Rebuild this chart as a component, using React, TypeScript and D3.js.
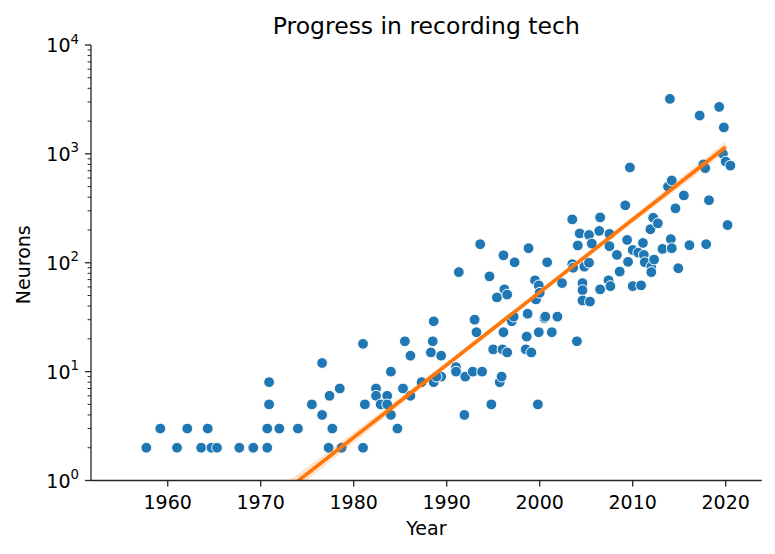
import React from "react";
import * as d3 from "d3";

const years = [
  1957.7, 1959.2, 1961.0, 1962.1, 1963.6, 1964.3, 1964.7, 1965.3, 1967.7, 1969.2,
  1970.7, 1970.7, 1970.9, 1970.9, 1972.0, 1974.0, 1975.5, 1976.6, 1976.6, 1977.3,
  1977.4, 1977.7, 1978.5, 1978.7, 1981.0, 1981.2, 1981.0, 1982.4, 1982.4, 1982.9,
  1983.6, 1983.6, 1984.0, 1984.0, 1984.7, 1985.3, 1985.5, 1986.1, 1986.1, 1987.3,
  1988.6, 1988.5, 1988.3, 1989.4, 1988.6, 1989.4, 1988.9, 1991.0, 1991.0, 1991.3,
  1992.0, 1991.9, 1992.8, 1993.8, 1993.0, 1993.2, 1993.6, 1994.6, 1994.8, 1995.0,
  1995.4, 1995.7, 1995.9, 1996.0, 1996.5, 1996.1, 1996.1, 1996.2, 1996.5, 1997.0,
  1997.2, 1997.3, 1998.5, 1998.6, 1998.7, 1998.8, 1999.1, 1999.5, 1999.6, 1999.8,
  1999.9, 1999.9, 2000.0, 2000.5, 2000.6, 2000.8, 2001.3, 2001.9, 2002.4, 2003.5,
  2003.5, 2003.6, 2004.0, 2004.1, 2004.3, 2004.6, 2004.6, 2004.6, 2004.8, 2005.3,
  2005.3, 2005.4, 2005.6, 2006.4, 2006.5, 2006.5, 2007.4, 2007.5, 2007.5, 2007.6,
  2008.3, 2008.6, 2009.2, 2009.4, 2009.5, 2009.7, 2010.0, 2010.0, 2010.6, 2010.9,
  2011.1, 2011.2, 2011.3, 2011.9, 2012.0, 2012.0, 2012.2, 2012.3, 2012.7, 2013.2,
  2013.8, 2014.0, 2014.1, 2014.2, 2014.2, 2014.6, 2014.9, 2015.5, 2016.1, 2017.2,
  2017.6, 2017.8, 2017.9, 2018.2, 2019.3, 2019.7, 2019.8, 2020.0, 2020.2, 2020.5,
];

const neurons = [
  2, 3, 2, 3, 2, 3, 2, 2, 2, 2,
  2, 3, 5, 8, 3, 3, 5, 4, 12, 2,
  6, 3, 7, 2, 18, 5, 2, 7, 6, 5,
  6, 5, 10, 4, 3, 7, 19, 14, 6, 8,
  29, 19, 15, 14, 8, 9, 9, 11, 10, 82,
  9, 4, 10, 10, 30, 23, 148, 75, 5, 16,
  48, 8, 9, 16, 15, 23, 117, 57, 51, 29,
  32, 101, 16, 21, 34, 136, 15, 69, 46, 5,
  62, 23, 53, 31, 32, 101, 23, 32, 65, 250,
  97, 90, 19, 144, 186, 65, 56, 45, 92, 180,
  100, 44, 150, 196, 261, 57, 69, 184, 142, 61,
  118, 83, 337, 162, 102, 750, 131, 61, 124, 62,
  152, 118, 101, 203, 92, 82, 259, 107, 230, 134,
  500, 3200, 165, 570, 136, 316, 89, 415, 145, 2250,
  800, 740, 148, 375, 2700, 1000, 1750, 850, 222, 780,
];

// Regression fit: endpoints of the fitted line
const fitYears = [1957.7, 2020.0];
const fitValues = [0.081, 1157];
// Confidence band half-width (log10 units) at a few years
const bandYears = [1957.7, 1975, 1990, 2005, 2020.0];
const bandHalfLog = [0.14, 0.06, 0.025, 0.025, 0.05];

const xTicks = [1960, 1970, 1980, 1990, 2000, 2010, 2020];
const yTickExps = [0, 1, 2, 3, 4];

const title = "Progress in recording tech";
const xLabel = "Year";
const yLabel = "Neurons";

const W = 775;
const H = 554;
const left = 91;
const right = 761.7;
const top = 45;
const bottom = 480.5;
const FONT = "DejaVu Sans, sans-serif";
const AXIS = "#262626";
const FS = 19;

export default function App() {
  const x = d3.scaleLinear().domain([1951.75, 2023.87]).range([left, right]);
  const y = d3.scaleLog().domain([1, 1e4]).range([bottom, top]);

  const fitLog = (yr: number) => {
    const l0 = Math.log10(fitValues[0]);
    const l1 = Math.log10(fitValues[1]);
    return l0 + ((yr - fitYears[0]) / (fitYears[1] - fitYears[0])) * (l1 - l0);
  };
  const halfAt = d3.scaleLinear().domain(bandYears).range(bandHalfLog);
  const bandPts = d3.range(0, 41).map((i) => fitYears[0] + (i / 40) * (fitYears[1] - fitYears[0]));
  const band = d3
    .area<number>()
    .x((d) => x(d))
    .y0((d) => y(Math.pow(10, fitLog(d) - halfAt(d))))
    .y1((d) => y(Math.pow(10, fitLog(d) + halfAt(d))));
  const line = d3
    .line<number>()
    .x((d) => x(d))
    .y((d, i) => y(fitValues[i]));

  const minorTicks: number[] = [];
  for (let e = 0; e < 4; e++) {
    for (let m = 2; m <= 9; m++) minorTicks.push(m * Math.pow(10, e));
  }

  const points = years.map((yr, i) => ({ yr, v: neurons[i] }));

  return (
    <div style={{ position: "fixed", left: 0, top: 0, width: W, height: H, background: "#fff" }}>
      <svg width={W} height={H} style={{ display: "block", fontFamily: FONT }}>
        <defs>
          <clipPath id="plotclip">
            <rect x={left} y={top} width={right - left} height={bottom - top} />
          </clipPath>
        </defs>
        <rect x={0} y={0} width={W} height={H} fill="#fff" />
        <g clipPath="url(#plotclip)">
          {points.map((p, i) => (
            <circle
              key={i}
              cx={x(p.yr)}
              cy={y(p.v)}
              r={5.4}
              fill="#1f77b4"
              stroke="#fff"
              strokeWidth={1}
            />
          ))}
          <path d={band(bandPts) || ""} fill="#ff7f0e" opacity={0.2} />
          <path d={line(fitYears) || ""} fill="none" stroke="#ff770a" strokeWidth={3.6} />
        </g>
        {/* spines */}
        <line x1={left} x2={left} y1={top} y2={bottom} stroke={AXIS} strokeWidth={1.3} />
        <line x1={left} x2={right} y1={bottom} y2={bottom} stroke={AXIS} strokeWidth={1.3} />
        {/* x ticks */}
        {xTicks.map((t) => (
          <g key={t}>
            <line x1={x(t)} x2={x(t)} y1={bottom} y2={bottom + 6} stroke={AXIS} strokeWidth={1.3} />
            <text x={x(t)} y={509} fontSize={FS} textAnchor="middle" fill="#000">
              {t}
            </text>
          </g>
        ))}
        {/* y major ticks */}
        {yTickExps.map((e) => {
          const yy = y(Math.pow(10, e));
          return (
            <g key={e}>
              <line x1={left - 6} x2={left} y1={yy} y2={yy} stroke={AXIS} strokeWidth={1.3} />
              <text x={79} y={yy + 7} fontSize={FS} textAnchor="end" fill="#000">
                10
                <tspan fontSize={13.3} dy={-8.5}>
                  {e}
                </tspan>
              </text>
            </g>
          );
        })}
        {minorTicks.map((m) => (
          <line key={m} x1={left - 3.4} x2={left} y1={y(m)} y2={y(m)} stroke={AXIS} strokeWidth={1} />
        ))}
        {/* labels */}
        <text x={(left + right) / 2} y={535} fontSize={FS} textAnchor="middle" fill="#000">
          {xLabel}
        </text>
        <text
          transform={`translate(30,${(top + bottom) / 2 + 2}) rotate(-90)`}
          fontSize={FS}
          textAnchor="middle"
          fill="#000"
        >
          {yLabel}
        </text>
        <text x={(left + right) / 2} y={34} fontSize={23.5} textAnchor="middle" fill="#000">
          {title}
        </text>
      </svg>
    </div>
  );
}
